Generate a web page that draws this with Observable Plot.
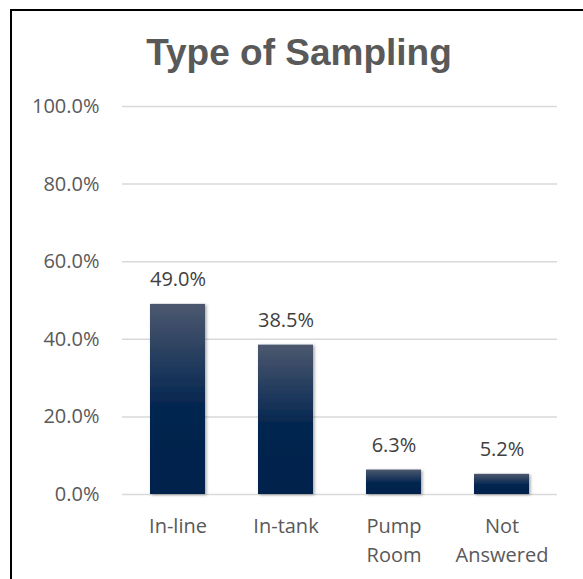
<!DOCTYPE html>
<html>
<head>
<meta charset="utf-8">
<script src="https://cdn.jsdelivr.net/npm/d3@7"></script>
<script src="https://cdn.jsdelivr.net/npm/@observablehq/plot@0.6"></script>
<style>
  html, body { margin: 0; padding: 0; background: #fff; overflow: hidden; }
  #wrap { position: relative; width: 583px; height: 579px; }
  #frame { position: absolute; left: 10px; top: 9px; width: 700px; height: 700px;
           border-left: 2px solid #000; border-top: 2px solid #000; box-sizing: border-box; }
  #title { position: absolute; left: 0; top: 30px; width: 598px; text-align: center;
           font-family: "Liberation Sans", Arial, sans-serif; font-weight: bold;
           font-size: 37px; color: #595959; line-height: 46px; }
  #chart { position: absolute; left: 0; top: 0; }
</style>
</head>
<body>
<div id="wrap">
  <div id="frame"></div>
  <div id="chart"></div>
  <div id="title">Type of Sampling</div>
</div>
<script>
const categories = ["In-line", "In-tank", "Pump Room", "Not Answered"];
const categoryLabels = ["In-line", "In-tank", "Pump\nRoom", "Not\nAnswered"];
const values = [49.0, 38.5, 6.3, 5.2];
const yTicks = [0, 20, 40, 60, 80, 100];

const data = categories.map((c, i) => ({category: c, value: values[i]}));
const labelOf = new Map(categories.map((c, i) => [c, categoryLabels[i]]));

const chart = Plot.plot({
  width: 583,
  height: 579,
  marginTop: 106,
  marginBottom: 85,
  marginLeft: 122,
  marginRight: 26,
  style: {fontFamily: "'Open Sans', sans-serif", background: "transparent"},
  x: {domain: categories, padding: 0.49, paddingOuter: 0.245, align: 0.5},
  y: {domain: [0, 100]},
  marks: [
    Plot.ruleY(yTicks, {stroke: "#d9d9d9", strokeWidth: 1.5}),
    Plot.barY(data, {x: "category", y: "value", fill: "url(#barGrad)"}),
    Plot.text(data, {x: "category", y: "value", text: d => d.value.toFixed(1) + "%",
      lineAnchor: "bottom", dy: -18, fontSize: 20, fill: "#404040"}),
    Plot.axisY({ticks: yTicks, tickFormat: d => d.toFixed(1) + "%", tickSize: 0,
      tickPadding: 23, fontSize: 20, color: "#595959", label: null}),
    Plot.axisX({tickFormat: d => labelOf.get(d), tickSize: 0, tickPadding: 18,
      fontSize: 20, color: "#595959", lineHeight: 1.45, label: null})
  ]
});

// gradient + shadow definitions
const svg = d3.select(chart);
const defs = svg.insert("defs", ":first-child");
const g = defs.append("linearGradient").attr("id", "barGrad")
  .attr("x1", 0).attr("y1", 0).attr("x2", 0).attr("y2", 1);
g.append("stop").attr("offset", "0%").attr("stop-color", "#4c586f");
g.append("stop").attr("offset", "55%").attr("stop-color", "#02254f");
g.append("stop").attr("offset", "100%").attr("stop-color", "#01234c");
const f = defs.append("filter").attr("id", "barShadow")
  .attr("x", "-20%").attr("y", "-20%").attr("width", "140%").attr("height", "140%");
f.append("feDropShadow").attr("dx", 1.5).attr("dy", 1).attr("stdDeviation", 1.6)
  .attr("flood-color", "#000").attr("flood-opacity", 0.35);
svg.selectAll("rect").filter(function() { return this.getAttribute("fill") === "url(#barGrad)" || (this.parentNode && this.parentNode.getAttribute("fill") === "url(#barGrad)"); })
  .attr("filter", "url(#barShadow)");

document.getElementById("chart").appendChild(chart);
</script>
</body>
</html>
